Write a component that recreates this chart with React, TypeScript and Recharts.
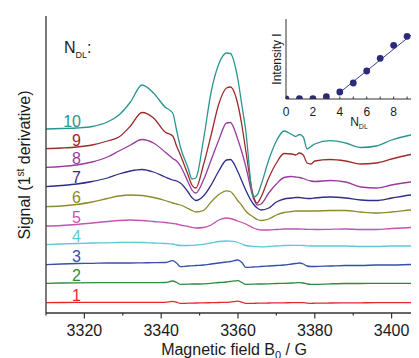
import React from 'react';
import { LineChart, Line, XAxis, YAxis, ComposedChart, Scatter, Customized } from 'recharts';

const FONT = '"Liberation Sans", Arial, Helvetica, sans-serif';

// Magnetic field grid (G)
const field = [3310, 3314, 3318, 3322, 3326, 3329, 3332, 3335, 3338, 3341, 3343, 3344, 3345, 3347, 3348, 3349, 3351, 3353, 3355, 3357, 3358, 3360, 3361, 3362, 3364, 3365, 3366, 3368, 3370, 3372, 3374, 3375, 3376, 3377, 3378, 3379, 3380, 3384, 3388, 3392, 3396, 3400, 3405, 3410];

// Vertical offsets of the stacked spectra (a.u.)
const offsets = [10.3, 29.7, 48.3, 68.3, 87, 106.3, 126.3, 145.7, 164.3, 184];

// 1st-derivative signals (a.u.) for N_DL = 1..10
const n1 = [0, 0.2, 0.3, 0.3, 0.3, 0.3, 0.3, 0.3, 0.3, 0.4, 1.4, 0.5, -0.7, -0.5, -0.4, -0.3, -0.2, 0, 0.2, 0.4, 0.6, 1.5, 0.5, -0.7, -0.6, -0.5, -0.4, -0.3, -0.2, -0.1, 0, 0, 0, 0, -0.5, -0.6, -0.5, -0.3, -0.2, -0.1, 0, 0, 0, 0];
const n2 = [0, 0.3, 0.5, 0.6, 0.6, 0.6, 0.6, 0.6, 0.6, 0.8, 2.3, 0.8, -1, -0.9, -0.7, -0.7, -0.5, 0, 0.8, 1.3, 1.8, 2.6, 0.8, -1, -0.9, -0.7, -0.7, -0.5, -0.2, 0, 0.3, 0.5, 0.7, 0.3, -0.7, -1, -1, -0.5, -0.2, -0.2, 0, 0, 0, 0];
const n3 = [0, 0.7, 1.2, 1.4, 1.7, 1.7, 1.7, 1.9, 2, 2.2, 4, 1.7, -2, -1.3, -1.1, -0.8, -0.3, 0.7, 1.7, 2.7, 3.2, 4.7, 2.2, -2.6, -2.3, -2.1, -1.8, -1.3, -0.8, -0.3, 0.7, 1.2, 1.7, 0.7, -1.3, -1.8, -1.8, -1.3, -0.8, -0.8, -0.3, -0.3, 0.2, 0.4];
const n4 = [0, 0.7, 1.2, 1.7, 1.9, 2.2, 2.4, 2.2, 1.7, 1.2, 0.7, -0.3, -0.8, -0.8, -0.6, -0.3, 0.4, 1.7, 3.2, 3.7, 3.5, 2.2, 0.7, -0.8, -1.8, -2, -2.1, -1.8, -1.3, -0.8, -0.6, -0.6, -0.6, -0.8, -1.1, -1.3, -1.3, -1.3, -1.3, -1.8, -1.8, -1.3, -1.3, -1.3];
const n5 = [0, 0.5, 1.5, 3, 4.5, 5.5, 6, 5.5, 4.5, 3.5, 2.5, 2, 1, -0.5, -1.3, -2, -1.5, 1, 6, 8, 7.5, 5, 3.5, 2, -2, -3.3, -4, -4, -3.5, -3, -3, -3, -3, -3.2, -3.3, -3.4, -3.5, -3.3, -3, -3.5, -3.5, -2.5, -1.5, -1];
const n6 = [0, 0.7, 2.2, 4.7, 8.2, 10.7, 11.7, 11.2, 9.2, 6.2, 3.7, 2.7, 1.7, -1.8, -3.8, -5.3, -3.8, 4.7, 12.2, 15.9, 15.2, 5.7, 1.2, -4.3, -10.3, -12.8, -13.8, -12.3, -8.3, -5.8, -4.8, -4.3, -4.3, -4.3, -4.3, -4.3, -4.3, -3.8, -3.8, -5.3, -6.3, -5.3, -3.3, -1.8];
const n7 = [0, 1.2, 2.7, 5.2, 8.7, 12.7, 15.7, 17.2, 14.7, 9.7, 6.7, 5.7, 3.7, -5.3, -10.8, -13.8, -9.3, 1.7, 15.7, 26.7, 27.2, 14.7, 5.7, -3.3, -17.3, -21.3, -23.3, -21.3, -15.3, -12.3, -11.3, -10.8, -10.8, -11.3, -11.8, -11.8, -11.3, -10.3, -11.3, -13.3, -13.8, -11.3, -8.3, -6.3];
const n8 = [0, 0.8, 2.3, 5.3, 10.3, 16.3, 22.3, 27.8, 24.3, 15.3, 8.8, 6.3, 1.3, -14.7, -22.7, -25.7, -12.7, 7.3, 27.3, 44.3, 44.8, 27.3, 15.3, 1.3, -30.7, -37.7, -36.7, -25.7, -16.7, -10.2, -9.2, -9.7, -10.2, -11.2, -12.7, -13.7, -14.2, -13.2, -14.7, -19.7, -20.7, -17.7, -14.7, -12.2];
const n9 = [0, 0.7, 1.7, 3.7, 7.7, 11.7, 22.7, 36.2, 30.7, 16.7, 12.7, 2.7, -6.3, -26.3, -36.3, -39.3, -16.3, 13.7, 44.7, 60.7, 61.7, 43.7, 23.7, -1.3, -47.3, -54.3, -48.3, -29.3, -14.3, -4.8, -5.3, -6.3, -4.3, -6.3, -14.3, -15.3, -12.3, -10.8, -12.3, -15.3, -14.3, -10.3, -5.8, -2.3];
const n10 = [0, 0.5, 1, 2.5, 7, 14, 27, 44, 36, 22, 16, -1, -18, -39, -50, -49, -11, 37, 65, 76, 75.5, 49, 24, -1, -68, -66, -56, -31, -12, -2, -5.5, -7.5, -5.5, -8, -20, -17.5, -15, -11.7, -14, -18.5, -17, -11, -6, -3];

const signals = [n1, n2, n3, n4, n5, n6, n7, n8, n9, n10];
const seriesNames = ['1', '2', '3', '4', '5', '6', '7', '8', '9', '10'];
const colors = ['#e8262b', '#2f8a3d', '#3550a8', '#5cc8d6', '#c452b0', '#8b8b2b', '#2d2d8c', '#9a3a9f', '#9c2b2b', '#2a948f'];

const xTicks = [3310, 3320, 3330, 3340, 3350, 3360, 3370, 3380, 3390, 3400, 3410];
const yTicks = [55.5, 103.8, 152.1, 200.4, 248.7, 297];

// Inset: integrated intensity vs N_DL
const nDL = [0, 1, 2, 3, 4, 5, 6, 7, 8, 9, 10];
const intensity = [0, 0.3, 0.3, 2.3, 7, 16, 28, 40.7, 53.7, 62.7, 71.7];
const fitN = [3.95, 10.6];
const fitI = [6, 78];
const insetXTicks = [0, 1, 2, 3, 4, 5, 6, 7, 8, 9, 10, 11];
const insetYTicks = [9, 18, 27, 36, 45, 54, 63, 72, 80];

const rows = field.map((f, i) => {
  const r: any = { field: f };
  signals.forEach((s, k) => {
    r['s' + k] = offsets[k] + s[i];
  });
  return r;
});

const points = nDL.map((n, i) => ({ n, I: intensity[i] }));
const fit = fitN.map((n, i) => ({ n, I: fitI[i] }));

const LABEL_INDEX = field.indexOf(3318);

const XTick = (props: any) => {
  const { x, y, payload } = props;
  const v = payload.value;
  const major = v % 20 === 0;
  return (
    <g>
      <line x1={x} x2={x} y1={y} y2={y + (major ? 5.5 : 2.5)} stroke="#333" strokeWidth={1.2} />
      {major && (
        <text x={x} y={y + 22.7} textAnchor="middle" fontSize={16} fontFamily={FONT} fill="#1a1a1a">
          {v}
        </text>
      )}
    </g>
  );
};

const InsetXTick = (props: any) => {
  const { x, y, payload } = props;
  const v = payload.value;
  return (
    <g>
      <line x1={x} x2={x} y1={y} y2={y - 2.5} stroke="#333" strokeWidth={1} />
      {v % 2 === 0 && (
        <text x={x} y={y + 16.7} textAnchor="middle" fontSize={12} fontFamily={FONT} fill="#1a1a1a">
          {v}
        </text>
      )}
    </g>
  );
};

const makeDot = (k: number) => (p: any) => {
  if (p.index !== LABEL_INDEX) return <g key={p.key || `d${k}-${p.index}`} />;
  return (
    <text
      key={p.key || `d${k}-${p.index}`}
      x={p.cx + 4.3}
      y={p.cy - 1.5}
      textAnchor="end"
      fontSize={16}
      fontFamily={FONT}
      fill={colors[k]}
    >
      {seriesNames[k]}
    </text>
  );
};

const MainTitles = () => (
  <g fontFamily={FONT} fill="#1a1a1a">
    <text x={22} y={157} transform="rotate(-90 22 157)" textAnchor="middle" fontSize={16}>
      Signal (1<tspan fontSize={10} dy={-6}>st</tspan>
      <tspan dy={6}> derivative)</tspan>
    </text>
    <text x={226} y={347} textAnchor="middle" fontSize={16}>
      Magnetic field B<tspan fontSize={11} dy={4}>0</tspan>
      <tspan dy={-4}> / G</tspan>
    </text>
    <text x={56} y={45.3} fontSize={16}>
      N<tspan fontSize={9} dy={5}>DL</tspan>
      <tspan dy={-5}>:</tspan>
    </text>
  </g>
);

const InsetTitles = () => (
  <g fontFamily={FONT} fill="#1a1a1a">
    <text x={33} y={46} transform="rotate(-90 33 46)" textAnchor="middle" fontSize={12}>
      Intensity I
    </text>
    <text x={111} y={113} textAnchor="middle" fontSize={12}>
      N<tspan fontSize={7} dy={3}>DL</tspan>
    </text>
  </g>
);

const InsetDot = (p: any) => <circle cx={p.cx} cy={p.cy} r={3.4} fill="#2b2b7a" />;

export default function App() {
  return (
    <div style={{ position: 'relative', width: 411, height: 350, overflow: 'hidden' }}>
      <LineChart width={422} height={350} data={rows} margin={{ top: 8, right: 0, bottom: 0, left: 0 }}>
        <XAxis
          type="number"
          dataKey="field"
          domain={[3310, 3410]}
          ticks={xTicks}
          interval={0}
          allowDataOverflow
          height={45}
          stroke="#333"
          strokeWidth={1.3}
          tickLine={false}
          tickSize={0}
          tickMargin={0}
          tick={XTick}
        />
        <YAxis
          type="number"
          domain={[0, 297]}
          ticks={yTicks}
          interval={0}
          allowDataOverflow
          width={38}
          stroke="#333"
          strokeWidth={1.3}
          tick={false}
          tickSize={-3}
        />
        {signals.map((_, k) => (
          <Line
            key={k}
            dataKey={'s' + k}
            type="monotone"
            stroke={colors[k]}
            strokeWidth={1.3}
            dot={makeDot(k)}
            activeDot={false}
            isAnimationActive={false}
          />
        ))}
        <Customized component={MainTitles} />
      </LineChart>
      <div style={{ position: 'absolute', left: 240, top: 5 }}>
        <ComposedChart width={186} height={120} margin={{ top: 6, right: 0, bottom: 0, left: 0 }}>
          <XAxis
            type="number"
            dataKey="n"
            domain={[0, 11]}
            ticks={insetXTicks}
            interval={0}
            allowDataOverflow
            height={34}
            stroke="#333"
            tickLine={false}
            tickSize={0}
            tickMargin={0}
            tick={InsetXTick}
          />
          <YAxis
            type="number"
            dataKey="I"
            domain={[0, 80]}
            ticks={insetYTicks}
            interval={0}
            allowDataOverflow
            width={38}
            stroke="#333"
            tick={false}
            tickSize={-2.5}
          />
          <Line data={fit} dataKey="I" type="linear" stroke="#3d3d99" strokeWidth={1} dot={false} activeDot={false} isAnimationActive={false} />
          <Scatter data={points} dataKey="I" shape={InsetDot} isAnimationActive={false} />
          <Customized component={InsetTitles} />
        </ComposedChart>
      </div>
    </div>
  );
}
